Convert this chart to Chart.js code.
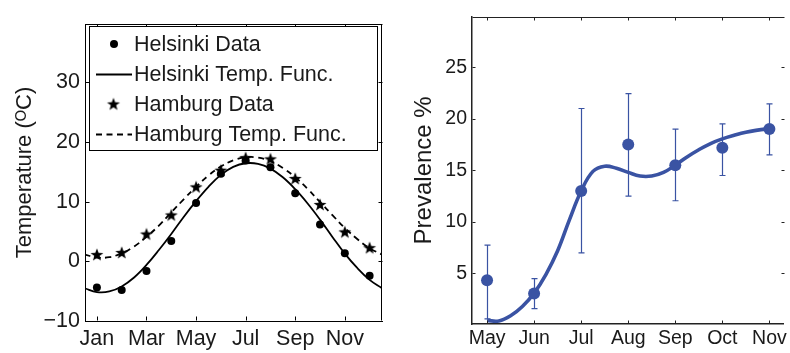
<!DOCTYPE html>
<html><head><meta charset="utf-8">
<script src="https://cdn.jsdelivr.net/npm/chart.js@4.4.1/dist/chart.umd.min.js"></script>
<style>
html,body{margin:0;padding:0;background:#fff;width:790px;height:353px;overflow:hidden}
canvas{position:absolute;top:0}
#l{left:0}
#r{left:395px}
</style></head><body>
<canvas id="l" width="395" height="353" style="width:395px;height:353px"></canvas>
<canvas id="r" width="395" height="353" style="width:395px;height:353px"></canvas>
<script>
// ---------- Left chart data ----------
const monthNames = ['Jan','Feb','Mar','Apr','May','Jun','Jul','Aug','Sep','Oct','Nov','Dec'];
const monthIndex = [0,1,2,3,4,5,6,7,8,9,10,11];
const leftTickPos = [0,2,4,6,8,10];
const leftYTicks = [-10,0,10,20,30];
const seriesNames = ['Helsinki Data','Helsinki Temp. Func.','Hamburg Data','Hamburg Temp. Func.'];
const helsinkiData = [-4.4,-4.8,-1.6,3.4,9.8,14.7,16.9,15.8,11.4,6.2,1.35,-2.4];
const hamburgData = [1.05,1.4,4.5,7.7,12.4,15.2,17.3,17.1,13.8,9.45,4.85,2.2];
const funcT = [-0.5,0,0.5,1,1.5,2,2.5,3,3.5,4,4.5,5,5.5,6,6.5,7,7.5,8,8.5,9,9.5,10,10.5,11,11.5];
const helsinkiFunc = [-4.5,-5.15,-5.05,-4.2,-2.7,-0.6,1.9,4.6,7.45,10.1,12.5,14.5,15.85,16.45,16.35,15.55,14.1,12.1,9.7,7.0,4.1,1.3,-1.1,-3.1,-4.5];
const hamburgFunc = [1.15,0.65,0.7,1.35,2.5,4.1,6.0,8.2,10.4,12.5,14.4,15.9,16.95,17.45,17.4,16.8,15.65,14.1,12.15,9.95,7.75,5.6,3.75,2.2,1.15];

// ---------- Right chart data ----------
const prevMonths = ['May','Jun','Jul','Aug','Sep','Oct','Nov'];
const prevIndex = [0,1,2,3,4,5,6];
const prevalence = [4.35,3.05,13.0,17.5,15.5,17.2,19.0];
const errLow = [0.6,1.6,7.0,12.5,12.05,14.5,16.5];
const errHigh = [7.75,4.5,21.0,22.45,19.0,19.5,21.45];
const rightYTicks = [5,10,15,20,25];
const fitT = [0,0.25,0.5,0.75,1,1.25,1.5,1.75,2,2.25,2.5,2.75,3,3.25,3.5,3.75,4,4.25,4.5,4.75,5,5.25,5.5,5.75,6];
const fitValues = [0.45,0.4,0.9,1.8,3.1,4.9,7.2,10.2,13.0,14.9,15.4,15.2,14.8,14.45,14.45,14.8,15.5,16.3,17.0,17.6,18.05,18.4,18.7,18.9,19.05];

const FONT = "'Liberation Sans', Arial, Helvetica, 'DejaVu Sans', sans-serif";
const TXT = '#1a1a1a';
const BLUE = '#3a53a3';

function makeStar(R, r, color) {
  const c = document.createElement('canvas');
  const s = Math.ceil(2 * R + 2);
  c.width = s; c.height = s;
  const g = c.getContext('2d');
  g.fillStyle = color;
  g.beginPath();
  for (let i = 0; i < 10; i++) {
    const a = -Math.PI / 2 + i * Math.PI / 5;
    const rad = i % 2 ? r : R;
    g.lineTo(s / 2 + rad * Math.cos(a), s / 2 + rad * Math.sin(a));
  }
  g.closePath();
  g.fill();
  return c;
}
const starImg = makeStar(6.8, 2.8, '#000');

const zip = (xs, ys) => xs.map((x, i) => ({x, y: ys[i]}));

// box + inward ticks
const boxPlugin = {
  id: 'box',
  afterDraw(chart, args, opts) {
    const {ctx, chartArea: a, scales} = chart;
    const L = Math.round(a.left) + 0.5, R = Math.round(a.right) - 0.5;
    const T = Math.round(a.top) + 0.5, B = Math.round(a.bottom) - 0.5;
    const len = opts.len || 4;
    ctx.save();
    ctx.strokeStyle = opts.color || '#000';
    ctx.lineWidth = 1;
    ctx.beginPath();
    ctx.moveTo(L, T); ctx.lineTo(R + 1, T);
    if (!opts.noRight) { ctx.moveTo(R, T); ctx.lineTo(R, B); }
    scales.x.ticks.forEach(t => {
      const px = Math.round(scales.x.getPixelForValue(t.value)) + 0.5;
      ctx.moveTo(px, B); ctx.lineTo(px, B - len);
      ctx.moveTo(px, T); ctx.lineTo(px, T + len);
    });
    scales.y.ticks.forEach(t => {
      const py = Math.round(scales.y.getPixelForValue(t.value)) + 0.5;
      ctx.moveTo(L, py); ctx.lineTo(L + len, py);
      ctx.moveTo(R + 1, py); ctx.lineTo(R + 1 - len, py);
    });
    ctx.stroke();
    ctx.restore();
  }
};

// legend inside the left axes
const boxLegend = {
  id: 'boxLegend',
  afterDraw(chart) {
    const {ctx} = chart;
    const x0 = 89.5, y0 = 26.5, x1 = 377.5, y1 = 150.5;
    ctx.save();
    ctx.fillStyle = '#fff';
    ctx.fillRect(x0, y0, x1 - x0, y1 - y0);
    ctx.strokeStyle = '#000';
    ctx.lineWidth = 1;
    ctx.strokeRect(x0, y0, x1 - x0, y1 - y0);
    const rows = [44, 74.5, 104.5, 134.5];
    const ds = chart.data.datasets;
    ds.forEach((d, i) => {
      const y = rows[i];
      ctx.save();
      if (d.legendKind === 'dot') {
        ctx.fillStyle = '#000';
        ctx.beginPath(); ctx.arc(114, y, 4, 0, Math.PI * 2); ctx.fill();
      } else if (d.legendKind === 'star') {
        ctx.drawImage(starImg, 113.5 - starImg.width / 2, y - starImg.height / 2);
      } else {
        ctx.strokeStyle = '#000';
        ctx.lineWidth = 1.8;
        if (d.borderDash) ctx.setLineDash(d.borderDash);
        ctx.beginPath(); ctx.moveTo(96, y); ctx.lineTo(132, y); ctx.stroke();
      }
      ctx.restore();
      ctx.fillStyle = TXT;
      ctx.font = '21.5px ' + FONT;
      ctx.textBaseline = 'middle';
      ctx.textAlign = 'left';
      ctx.fillText(d.label, 134, y + 1);
    });
    ctx.restore();
  }
};

// error bars
const errorBars = {
  id: 'errorBars',
  beforeDatasetsDraw(chart) {
    const {ctx, scales: {x, y}} = chart;
    ctx.save();
    ctx.strokeStyle = BLUE;
    ctx.lineWidth = 1.2;
    ctx.beginPath();
    prevIndex.forEach((m, i) => {
      const px = Math.round(x.getPixelForValue(m)) + 0.5;
      const yl = y.getPixelForValue(errLow[i]);
      const yh = y.getPixelForValue(errHigh[i]);
      ctx.moveTo(px, yl); ctx.lineTo(px, yh);
      ctx.moveTo(px - 3, yl); ctx.lineTo(px + 3, yl);
      ctx.moveTo(px - 3, yh); ctx.lineTo(px + 3, yh);
    });
    ctx.stroke();
    ctx.restore();
  }
};

Chart.defaults.font.family = FONT;
Chart.defaults.color = TXT;

new Chart(document.getElementById('l'), {
  type: 'scatter',
  data: {
    datasets: [
      {label: seriesNames[0], legendKind: 'dot', data: zip(monthIndex, helsinkiData), pointRadius: 4, pointHoverRadius: 4,
       backgroundColor: '#000', borderColor: '#000', borderWidth: 0, showLine: false, order: 0},
      {label: seriesNames[1], legendKind: 'line', data: zip(funcT, helsinkiFunc), pointRadius: 0, showLine: true,
       borderColor: '#000', borderWidth: 1.8, tension: 0.4, order: 2},
      {label: seriesNames[2], legendKind: 'star', data: zip(monthIndex, hamburgData), pointStyle: starImg, pointRadius: 7,
       showLine: false, order: 0},
      {label: seriesNames[3], legendKind: 'line', data: zip(funcT, hamburgFunc), pointRadius: 0, showLine: true,
       borderColor: '#000', borderWidth: 1.8, borderDash: [6, 4.5], tension: 0.4, order: 2}
    ]
  },
  options: {
    responsive: false, animation: false, devicePixelRatio: 1,
    layout: {padding: {top: 24, right: 13, left: 0, bottom: 0}},
    plugins: {legend: {display: false}, tooltip: {enabled: false}},
    scales: {
      x: {
        type: 'linear', min: -0.48, max: 11.5,
        afterBuildTicks: s => { s.ticks = leftTickPos.map(v => ({value: v})); },
        afterFit: s => { s.height = 32; },
        ticks: {callback: v => monthNames[v], font: {size: 21.5}, color: TXT, padding: 5, maxRotation: 0, autoSkip: false},
        grid: {display: false, drawTicks: false},
        border: {display: true, color: '#000', width: 1}
      },
      y: {
        min: -10, max: 39.8,
        afterBuildTicks: s => { s.ticks = leftYTicks.map(v => ({value: v})); },
        afterFit: s => { s.width = 85; },
        ticks: {callback: v => (v < 0 ? '\u2212' + Math.abs(v) : String(v)), font: {size: 21.5}, color: TXT, padding: 5},
        grid: {display: false, drawTicks: false},
        border: {display: true, color: '#000', width: 1},
        title: {display: true, text: 'Temperature (\u1D3CC)', font: {size: 22}, color: TXT, padding: {top: 12, bottom: 0}}
      }
    }
  },
  plugins: [boxPlugin, boxLegend]
});

new Chart(document.getElementById('r'), {
  type: 'scatter',
  data: {
    datasets: [
      {label: 'Prevalence', data: zip(prevIndex, prevalence), pointRadius: 6, pointHoverRadius: 6,
       backgroundColor: BLUE, borderColor: BLUE, borderWidth: 0, showLine: false, order: 0},
      {label: 'Fit', data: zip(fitT, fitValues), pointRadius: 0, showLine: true,
       borderColor: BLUE, borderWidth: 3.6, tension: 0.4, order: 1}
    ]
  },
  options: {
    responsive: false, animation: false, devicePixelRatio: 1,
    layout: {padding: {top: 5, right: 0, left: 0, bottom: 0}},
    plugins: {legend: {display: false}, tooltip: {enabled: false}, box: {len: 3, color: '#222', noRight: true}},
    scales: {
      x: {
        type: 'linear', min: -0.32, max: 6.3,
        afterBuildTicks: s => { s.ticks = prevIndex.map(v => ({value: v})); },
        afterFit: s => { s.height = 29; },
        ticks: {callback: v => prevMonths[v], font: {size: 19.5}, color: TXT, padding: 3, maxRotation: 0, autoSkip: false},
        grid: {display: false, drawTicks: false},
        border: {display: true, color: '#222', width: 1.5}
      },
      y: {
        min: 0.1, max: 29.9,
        afterBuildTicks: s => { s.ticks = rightYTicks.map(v => ({value: v})); },
        afterFit: s => { s.width = 77; },
        ticks: {font: {size: 19.5}, color: TXT, padding: 5},
        grid: {display: false, drawTicks: false},
        border: {display: true, color: '#222', width: 1.5},
        title: {display: true, text: 'Prevalence %', font: {size: 24}, color: TXT, padding: {top: 15, bottom: 0}}
      }
    }
  },
  plugins: [boxPlugin, errorBars]
});
</script>
</body></html>
